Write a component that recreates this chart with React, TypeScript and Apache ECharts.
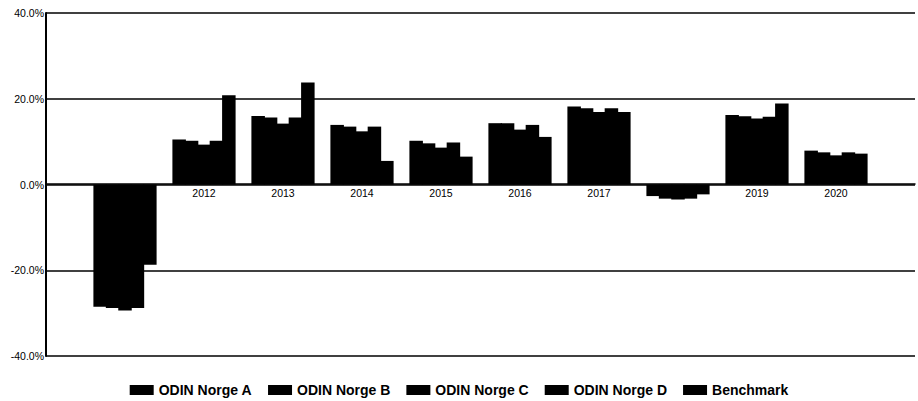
import React, { useEffect, useRef } from "react";
import * as echarts from "echarts";

const categories = ["", "2011", "2012", "2013", "2014", "2015", "2016", "2017", "2018", "2019", "2020", ""];
const seriesNames = ["ODIN Norge A", "ODIN Norge B", "ODIN Norge C", "ODIN Norge D", "Benchmark"];
const norgeA = [null, -28.5, 10.5, 16.0, 13.9, 10.2, 14.3, 18.2, -2.7, 16.2, 7.9, null];
const norgeB = [null, -28.8, 10.2, 15.6, 13.5, 9.6, 14.3, 17.8, -3.3, 15.9, 7.5, null];
const norgeC = [null, -29.4, 9.3, 14.2, 12.4, 8.6, 12.8, 16.9, -3.5, 15.4, 6.8, null];
const norgeD = [null, -28.8, 10.2, 15.6, 13.5, 9.8, 13.9, 17.8, -3.3, 15.8, 7.5, null];
const benchmark = [null, -18.7, 20.8, 23.8, 5.5, 6.5, 11.1, 16.9, -2.3, 18.9, 7.2, null];
const seriesValues = [norgeA, norgeB, norgeC, norgeD, benchmark];

export default function App() {
  const ref = useRef<HTMLDivElement>(null);
  useEffect(() => {
    if (!ref.current) return;
    const chart = echarts.init(ref.current, null, { renderer: "svg" });
    const font = "'Liberation Sans', Arial, sans-serif";
    chart.setOption({
      animation: false,
      textStyle: { fontFamily: font },
      grid: { left: 46, top: 13, width: 885, height: 343 },
      legend: {
        top: 378,
        left: "center",
        icon: "rect",
        itemWidth: 24,
        itemHeight: 10,
        itemGap: 16,
        textStyle: { fontFamily: font, fontSize: 14, fontWeight: "bold", color: "#000" },
        data: seriesNames,
      },
      xAxis: {
        type: "category",
        data: categories,
        boundaryGap: false,
        position: "bottom",
        offset: -172,
        axisLine: { onZero: false, lineStyle: { color: "#000", width: 1.5 } },
        axisTick: { show: false },
        axisLabel: { interval: 0, margin: 3, fontSize: 10.5, color: "#000", fontFamily: font },
        splitLine: { show: false },
      },
      yAxis: {
        type: "value",
        min: -40,
        max: 40,
        interval: 20,
        axisLine: { show: true, lineStyle: { color: "#000", width: 2 } },
        axisTick: { show: false },
        axisLabel: {
          margin: 2,
          fontSize: 10.5,
          color: "#000",
          fontFamily: font,
          formatter: (v: number) => v.toFixed(1) + "%",
        },
        splitLine: { show: true, lineStyle: { color: "#000", width: 1.5 } },
      },
      series: seriesNames.map((name, i) => ({
        name,
        type: "bar",
        data: seriesValues[i],
        barGap: "-8%",
        barCategoryGap: "20%",
        itemStyle: { color: "#000" },
        emphasis: { disabled: true },
      })),
    });
    return () => chart.dispose();
  }, []);
  return <div ref={ref} style={{ width: 918, height: 401, position: "absolute", left: 0, top: 0 }} />;
}
